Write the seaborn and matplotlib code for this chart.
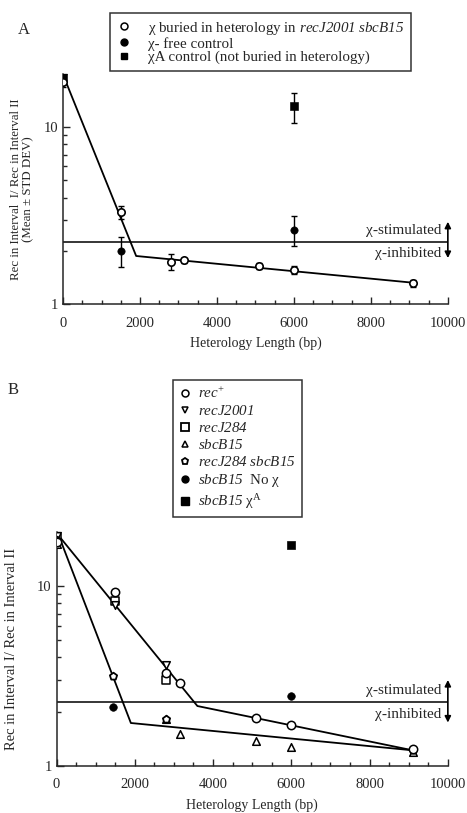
import numpy as np
import pandas as pd
from matplotlib import pyplot as plt
from matplotlib.lines import Line2D
import seaborn as sns

sns.set_style("ticks")
plt.rcParams['font.family'] = ['Liberation Serif', 'DejaVu Serif']
plt.rcParams['mathtext.fontset'] = 'custom'
plt.rcParams['mathtext.rm'] = 'Liberation Serif'
plt.rcParams['mathtext.it'] = 'Liberation Serif:italic'
# sf slot used for italic gene names so the digits stay italic too
plt.rcParams['mathtext.sf'] = 'Liberation Serif:italic'

# ---- panel A data ----
a_buried_x = [0, 1500, 2800, 3150, 5100, 6000, 9100]
a_buried_y = [18.0, 3.3, 1.73, 1.77, 1.64, 1.56, 1.31]
a_buried_err = [1.2, 0.28, 0.18, 0.06, 0.07, 0.08, 0.06]
a_free_x = [1500, 6000]
a_free_y = [2.0, 2.64]
a_free_err = [0.39, 0.5]
a_chiA_x = [0, 6000]
a_chiA_y = [19.3, 13.1]
a_chiA_err = [0.0, 2.6]
a_fit_x = [100, 1900, 9100]
a_fit_y = [17.5, 1.87, 1.32]

# ---- panel B data ----
b_recplus_x = [0, 1500, 2800, 3150, 5100, 6000, 9100]
b_recplus_y = [17.5, 9.3, 3.3, 2.88, 1.84, 1.69, 1.24]
b_recJ2001_x = [0, 1500, 2800]
b_recJ2001_y = [19.0, 7.8, 3.64]
b_recJ284_x = [0, 1500, 2800]
b_recJ284_y = [18.5, 8.2, 3.0]
b_sbcB15_x = [0, 2800, 3150, 5100, 6000, 9100]
b_sbcB15_y = [17.0, 1.82, 1.51, 1.38, 1.28, 1.2]
b_double_x = [0, 1450, 2800, 9100]
b_double_y = [18.0, 3.16, 1.82, 1.22]
b_nochi_x = [1450, 6000]
b_nochi_y = [2.11, 2.43]
b_chiA_x = [6000]
b_chiA_y = [16.9]
b_fit1_x = [100, 3600, 9100]
b_fit1_y = [18.5, 2.15, 1.22]
b_fit2_x = [100, 1900, 9100]
b_fit2_y = [18.0, 1.73, 1.22]

threshold = 2.25

fig = plt.figure(figsize=(4.67, 8.13), dpi=100)
axA = fig.add_axes([0.135, 0.626, 0.824, 0.283])
axB = fig.add_axes([0.121, 0.058, 0.838, 0.288])

def style_axis(ax, arrow_lo, arrow_hi):
    ax.set_yscale('log')
    ax.set_xlim(0, 10000)
    ax.set_ylim(1, 20)
    sns.despine(ax=ax)
    ax.set_xticks([0, 2000, 4000, 6000, 8000, 10000])
    ax.set_xticks(np.arange(0, 10001, 500), minor=True)
    ax.set_yticks([1, 10])
    ax.set_yticklabels(['1', '10'])
    ax.tick_params(which='both', direction='in', labelsize=10.5, width=1)
    ax.tick_params(which='major', length=5)
    ax.tick_params(which='minor', length=3)
    ax.tick_params(axis='x', pad=9)
    for s in ['left', 'bottom']:
        ax.spines[s].set_linewidth(1.1)
    ax.axhline(threshold, color='black', lw=1.1)
    ax.annotate('', xy=(1.0, arrow_lo), xytext=(1.0, arrow_hi),
                xycoords=('axes fraction', 'data'),
                arrowprops=dict(arrowstyle='<|-|>', color='black', lw=1.2,
                                mutation_scale=9, shrinkA=0, shrinkB=0))
    ax.text(9830, threshold * 1.07, 'χ-stimulated', ha='right', va='bottom', fontsize=11)
    ax.text(9830, threshold / 1.07, 'χ-inhibited', ha='right', va='top', fontsize=11)
    ax.set_xlabel('Heterology Length (bp)', fontsize=10, labelpad=5)

# ---- panel A ----
style_axis(axA, 1.82, 2.92)
sns.lineplot(x=a_fit_x, y=a_fit_y, ax=axA, color='black', lw=1.3, sort=False)
axA.errorbar(a_buried_x, a_buried_y, yerr=a_buried_err, fmt='none', ecolor='black',
             elinewidth=1, capsize=2.5)
axA.errorbar(a_free_x, a_free_y, yerr=a_free_err, fmt='none', ecolor='black',
             elinewidth=1, capsize=2.5)
axA.errorbar(a_chiA_x, a_chiA_y, yerr=a_chiA_err, fmt='none', ecolor='black',
             elinewidth=1, capsize=2.5)
sns.scatterplot(x=a_chiA_x, y=a_chiA_y, ax=axA, marker='s', color='black', s=28,
                edgecolor='black', zorder=5)
sns.scatterplot(x=a_free_x, y=a_free_y, ax=axA, marker='o', color='black', s=28,
                edgecolor='black', zorder=5)
sns.scatterplot(x=a_buried_x, y=a_buried_y, ax=axA, marker='o', color='white', s=28,
                edgecolor='black', linewidth=1.2, zorder=6)
axA.set_ylabel('Rec in Interval  I/ Rec in Interval II\n(Mean ± STD DEV)', fontsize=9.3,
               linespacing=1.0, labelpad=7)

handlesA = [
    Line2D([], [], ls='none', marker='o', ms=5, mfc='white', mec='black', mew=1.1),
    Line2D([], [], ls='none', marker='o', ms=5, mfc='black', mec='black'),
    Line2D([], [], ls='none', marker='s', ms=5, mfc='black', mec='black'),
]
labelsA = [r'χ buried in heterology in $\mathsf{recJ2001\ sbcB15}$',
           'χ- free control',
           'χA control (not buried in heterology)']
legA = axA.legend(handlesA, labelsA, loc='upper left', bbox_to_anchor=(110 / 467, 1 - 13 / 813),
                  bbox_transform=fig.transFigure, frameon=True, fancybox=False,
                  edgecolor='black', fontsize=10.8, handlelength=1.0, handletextpad=1.1,
                  labelspacing=0.0, borderpad=0.45, borderaxespad=0)
legA.get_frame().set_linewidth(1.1)
fig.text(18 / 467, 1 - 30 / 813, 'A', fontsize=12, va='center')

# ---- panel B ----
style_axis(axB, 1.74, 3.0)
sns.lineplot(x=b_fit1_x, y=b_fit1_y, ax=axB, color='black', lw=1.3, sort=False)
sns.lineplot(x=b_fit2_x, y=b_fit2_y, ax=axB, color='black', lw=1.3, sort=False)
ms = 30
sns.scatterplot(x=b_recJ284_x, y=b_recJ284_y, ax=axB, marker='s', color='white', s=ms,
                edgecolor='black', linewidth=1.1, zorder=5)
sns.scatterplot(x=b_recJ2001_x, y=b_recJ2001_y, ax=axB, marker='v', color='white', s=ms,
                edgecolor='black', linewidth=1.1, zorder=5)
sns.scatterplot(x=b_sbcB15_x, y=b_sbcB15_y, ax=axB, marker='^', color='white', s=ms,
                edgecolor='black', linewidth=1.1, zorder=5)
sns.scatterplot(x=b_double_x, y=b_double_y, ax=axB, marker='p', color='white', s=ms,
                edgecolor='black', linewidth=1.3, zorder=6)
sns.scatterplot(x=b_recplus_x, y=b_recplus_y, ax=axB, marker='o', color='white', s=36,
                edgecolor='black', linewidth=1.1, zorder=6)
sns.scatterplot(x=b_nochi_x, y=b_nochi_y, ax=axB, marker='o', color='black', s=ms,
                edgecolor='black', zorder=6)
sns.scatterplot(x=b_chiA_x, y=b_chiA_y, ax=axB, marker='s', color='black', s=36,
                edgecolor='black', zorder=6)
axB.set_ylabel('Rec in Interval I/ Rec in Interval II', fontsize=10.5, labelpad=14)

handlesB = [
    Line2D([], [], ls='none', marker='o', ms=5, mfc='white', mec='black', mew=1.1),
    Line2D([], [], ls='none', marker='v', ms=5, mfc='white', mec='black', mew=1.1),
    Line2D([], [], ls='none', marker='s', ms=6, mfc='white', mec='black', mew=1.3),
    Line2D([], [], ls='none', marker='^', ms=5, mfc='white', mec='black', mew=1.1),
    Line2D([], [], ls='none', marker='p', ms=5, mfc='white', mec='black', mew=1.3),
    Line2D([], [], ls='none', marker='o', ms=5, mfc='black', mec='black'),
    Line2D([], [], ls='none', marker='s', ms=6, mfc='black', mec='black'),
]
labelsB = [r'$\mathsf{rec}^{+}$', r'$\mathsf{recJ2001}$', r'$\mathsf{recJ284}$',
           r'$\mathsf{sbcB15}$', r'$\mathsf{recJ284\ sbcB15}$',
           r'$\mathsf{sbcB15}$  No χ', r'$\mathsf{sbcB15}$ χ$^{\mathrm{A}}$']
legB = axB.legend(handlesB, labelsB, loc='upper left', bbox_to_anchor=(173 / 467, 1 - 380 / 813),
                  bbox_transform=fig.transFigure, frameon=True, fancybox=False,
                  edgecolor='black', fontsize=10.8, handlelength=0.8, handletextpad=0.5,
                  labelspacing=0.2, borderpad=0.4, borderaxespad=0)
legB.get_frame().set_linewidth(1.1)
fig.text(8 / 467, 1 - 390 / 813, 'B', fontsize=12, va='center')

fig.savefig('out.png', dpi=100)
